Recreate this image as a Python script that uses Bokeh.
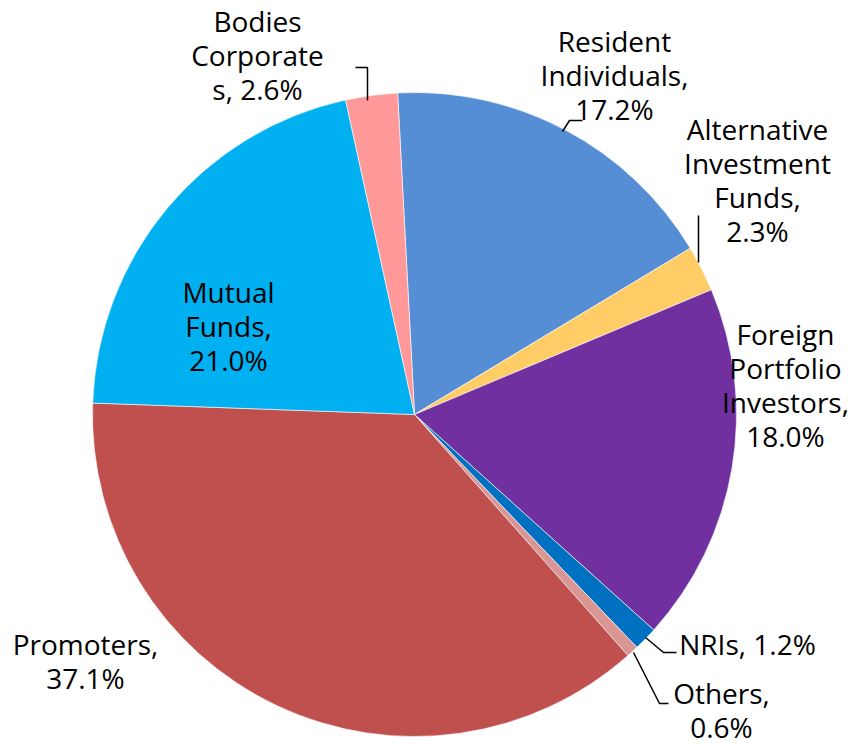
import math
from bokeh.plotting import figure
from bokeh.models import Range1d, ColumnDataSource
from bokeh.core.properties import value
from bokeh.embed import file_html
from bokeh.resources import INLINE

# ---- data (clockwise order, starting just left of 12 o'clock) ----
categories = ["Resident Individuals", "Alternative Investment Funds",
              "Foreign Portfolio Investors", "NRIs", "Others", "Promoters",
              "Mutual Funds", "Bodies Corporates"]
shares = [17.2, 2.3, 18.0, 1.2, 0.6, 37.1, 21.0, 2.6]
colors = ["#558ED5", "#FFCC66", "#7030A0", "#0070C0", "#D99694", "#C0504D",
          "#00B0F0", "#FF9999"]
# label line templates ({v} = value)
label_lines = [
    ["Resident", "Individuals,", "{v}"],
    ["Alternative", "Investment", "Funds,", "{v}"],
    ["Foreign", "Portfolio", "Investors,", "{v}"],
    ["NRIs, {v}"],
    ["Others,", "{v}"],
    ["Promoters,", "{v}"],
    ["Mutual", "Funds,", "{v}"],
    ["Bodies", "Corporate", "s, {v}"],
]

# ---- layout (screen pixel coordinates of the page) ----
W, H = 848, 744
def Y(sy):
    return H - sy

cx, cy, R = 414, 414, 322
start_deg = -3.0  # clockwise from 12 o'clock
label_pos = [(614, 40), (757, 128), (785, 333), (747, 643), (721, 692),
             (85, 643), (228, 291), (257, 20)]
line_step = 34
leaders = [
    [(562, 131), (569, 120), (582, 120)],
    [(698, 262), (698, 215)],
    None,
    [(645, 637), (663, 652), (676, 652)],
    [(633, 652), (659, 703), (668, 703)],
    None,
    None,
    [(367, 100), (367, 67), (355, 67)],
]

p = figure(width=W, height=H, output_backend="svg", toolbar_location=None,
           x_range=Range1d(0, W), y_range=Range1d(0, H), min_border=0)
p.axis.visible = False
p.grid.visible = False
p.outline_line_color = None
p.background_fill_color = "white"
p.border_fill_color = "white"

total = sum(shares)
starts, ends = [], []
acc = start_deg
for s in shares:
    a0 = acc
    a1 = acc + s / total * 360.0
    starts.append(math.radians(90 - a0))
    ends.append(math.radians(90 - a1))
    acc = a1

src = ColumnDataSource(dict(cat=categories, share=shares, color=colors,
                            start=starts, end=ends))
p.wedge(x=cx, y=Y(cy), radius=R, start_angle="start", end_angle="end",
        direction="clock", fill_color="color", line_color="white",
        line_width=0.6, source=src)

tx, ty, tt = [], [], []
for lines, (lx, ly), s in zip(label_lines, label_pos, shares):
    for i, ln in enumerate(lines):
        tx.append(lx)
        ty.append(Y(ly + i * line_step))
        tt.append(ln.replace("{v}", f"{s:.1f}%"))
p.text(x=tx, y=ty, text=tt, text_align="center", text_baseline="middle",
       text_font=value("Open Sans"), text_font_size="28px", text_color="#000000")

for ld in leaders:
    if ld:
        p.line([q[0] for q in ld], [Y(q[1]) for q in ld], line_color="#000000",
               line_width=1.5)

open("out.html", "w").write(file_html(p, INLINE))
